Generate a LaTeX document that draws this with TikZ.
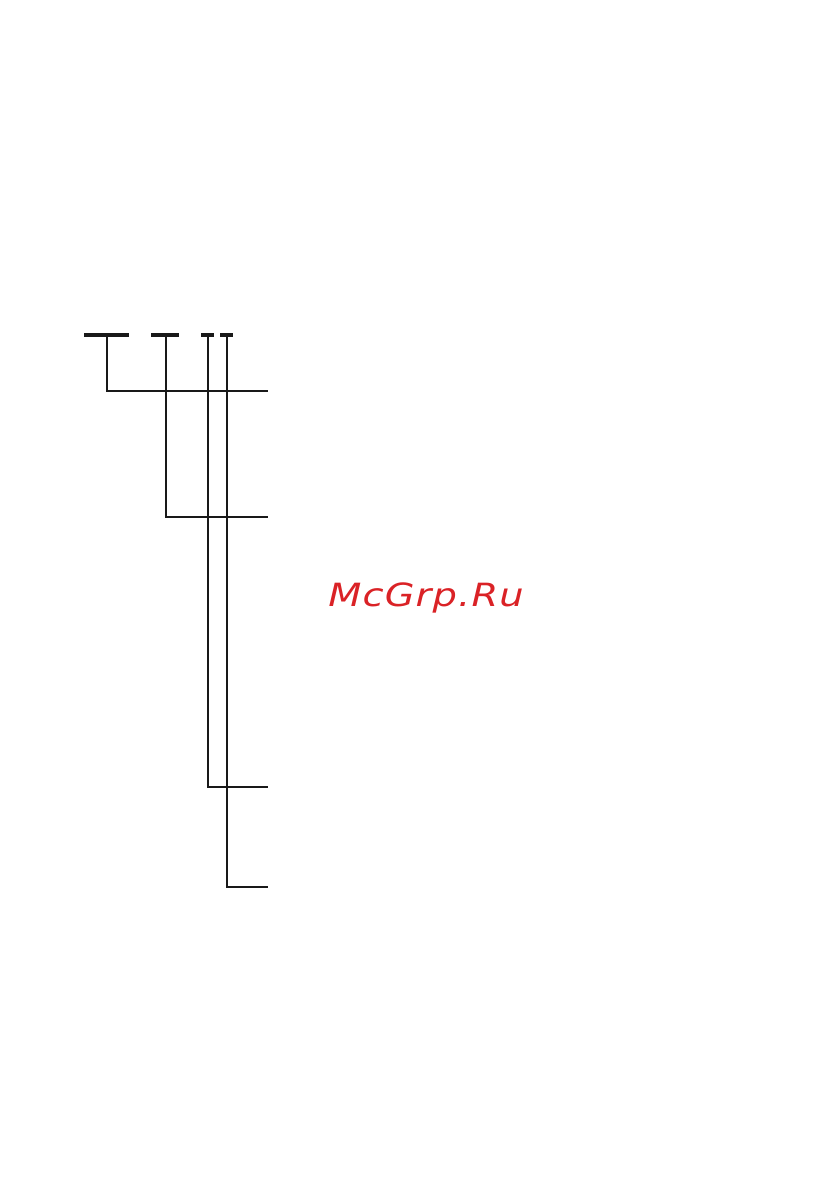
\documentclass[tikz,border=0pt]{standalone}
\usepackage{fontspec}
\usepackage{xcolor}
\usetikzlibrary{positioning,calc}
\newfontfamily\markfont[LetterSpace=3]{DejaVu Sans}
\definecolor{markred}{RGB}{218,34,38}
\tikzset{
    lead/.style={line width=2pt, draw=black!90},
    bar/.style={line width=4pt, draw=black!90},
}
\begin{document}
\begin{tikzpicture}[x=1pt,y=-1pt]
            \useasboundingbox (0,0) rectangle (840,1192);
            % bars on top
            \draw[bar] (84,335) -- (129,335);
            \draw[bar] (151,335) -- (179,335);
            \draw[bar] (201,335) -- (214,335);
            \draw[bar] (220,335) -- (233,335);
            % feet of the leads
            \coordinate (b1) at (106.7,335);
            \coordinate (b2) at (166.3,335);
            \coordinate (b3) at (208,335);
            \coordinate (b4) at (226.7,335);
            % ends of the leads
            \coordinate (e1) at (268,390.7);
            \coordinate (e2) at (268,516.7);
            \coordinate (e3) at (268,787.3);
            \coordinate (e4) at (268,886.7);
            \draw[lead] (b1) |- (e1);
            \draw[lead] (b2) |- (e2);
            \draw[lead] (b3) |- (e3);
            \draw[lead] (b4) |- (e4);
            \node[text=markred, xscale=1.2, font=\markfont\itshape\fontsize{32}{38}\selectfont] (mark) at (426,598) {McGrp.Ru};
        \end{tikzpicture}
\end{document}
